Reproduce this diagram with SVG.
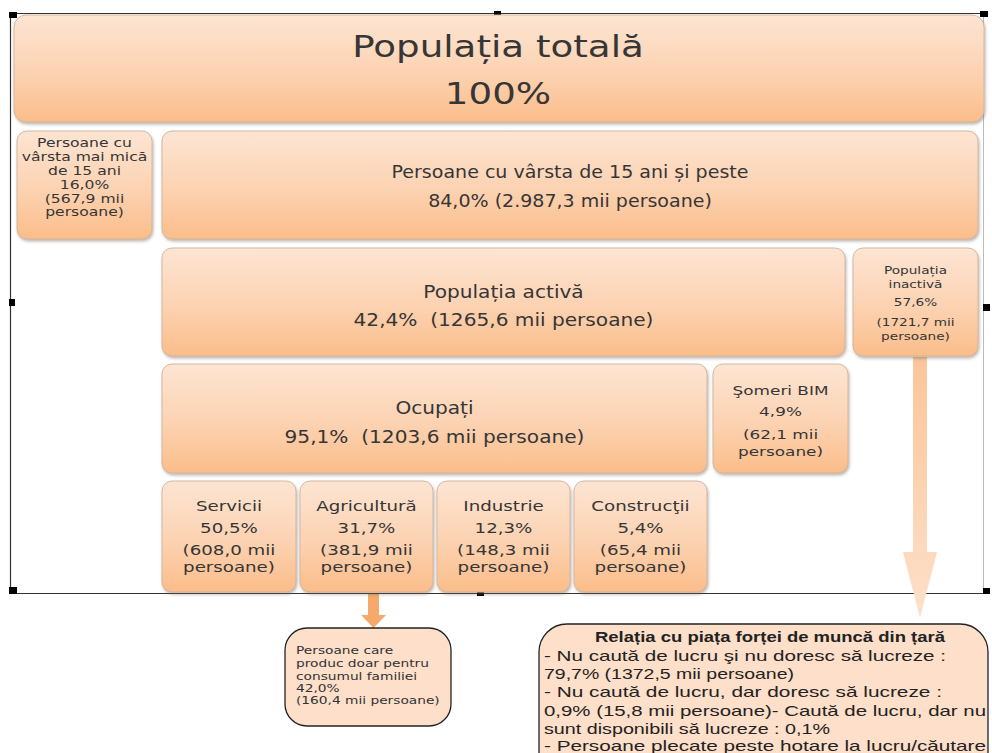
<svg xmlns="http://www.w3.org/2000/svg" width="992" height="753" viewBox="0 0 992 753">
<defs>
<linearGradient id="gBox" x1="0" y1="0" x2="0" y2="1">
<stop offset="0" stop-color="#fde5d3"/>
<stop offset="0.55" stop-color="#fcd2b1"/>
<stop offset="1" stop-color="#fbbd8a"/>
</linearGradient>
<linearGradient id="gArrow" x1="0" y1="0" x2="0" y2="1">
<stop offset="0" stop-color="#fbc59a"/>
<stop offset="1" stop-color="#fde0ca"/>
</linearGradient>
<filter id="sh" x="-5%" y="-10%" width="110%" height="125%">
<feDropShadow dx="1" dy="2" stdDeviation="1.4" flood-color="#6b5a4c" flood-opacity="0.45"/>
</filter>
</defs>
<style>
.box{fill:url(#gBox);stroke:#d0b39c;stroke-width:0.9;filter:url(#sh)}
.t{font-family:"DejaVu Sans",sans-serif;fill:#363636;text-anchor:middle}
.tl{font-family:"DejaVu Sans",sans-serif;fill:#333;text-anchor:start}
.b{font-family:"Liberation Sans",Arial,sans-serif;fill:#222;font-size:15px}
.frame{fill:none;stroke:#333;stroke-width:1.2}
.hd{fill:#000}
.note{fill:#fddfca;stroke:#222;stroke-width:1.3}
</style>
<rect width="992" height="753" fill="#ffffff"/>

<g id="frame">
<path class="frame" d="M10.5 593.5 V13.5 H983.5"/>
<path d="M983.5 13.5 V593.5" fill="none" stroke="#bbb" stroke-width="1"/>
<path class="frame" d="M10.5 593.5 H986"/>
<rect class="hd" x="9" y="12" width="8" height="6"/>
<rect class="hd" x="494" y="11" width="7" height="6"/>
<rect class="hd" x="980" y="11" width="8" height="6"/>
<rect class="hd" x="9" y="299" width="6" height="7"/>
<rect class="hd" x="983" y="304" width="7" height="7"/>
<rect class="hd" x="9" y="587" width="8" height="7"/>
<rect class="hd" x="477" y="590" width="7" height="6"/>
<rect class="hd" x="983" y="588" width="7" height="6"/>
</g>

<g id="connectors">
<path d="M913 357 H927 V552 H937 L920 618 L903 552 H913 Z" fill="url(#gArrow)"/>
<path d="M368 594 H379 V615 H386 L373.5 628 L361 615 H368 Z" fill="#f5a96a"/>
</g>

<g id="n-total">
<rect class="box" x="14" y="15" width="970" height="107" rx="12"/>
<g transform="translate(498 0) scale(1.24 1)">
<text class="t" x="0" y="57" font-size="30" fill="#1e1e1e">Populația totală</text>
<text class="t" x="0" y="104" font-size="30" fill="#1e1e1e">100%</text>
</g>
</g>

<g id="n-sub15">
<rect class="box" x="17" y="131" width="135" height="108" rx="10"/>
<g transform="translate(84.5 0) scale(1.3 1)" font-size="12">
<text class="t" x="0" y="147">Persoane cu</text>
<text class="t" x="0" y="161">vârsta mai mică</text>
<text class="t" x="0" y="175">de 15 ani</text>
<text class="t" x="0" y="189">16,0%</text>
<text class="t" x="0" y="203">(567,9 mii</text>
<text class="t" x="0" y="216">persoane)</text>
</g>
</g>

<g id="n-15plus">
<rect class="box" x="162" y="131" width="816" height="108" rx="10"/>
<g transform="translate(570 0) scale(1.12 1)" font-size="17">
<text class="t" x="0" y="178">Persoane cu vârsta de 15 ani și peste</text>
<text class="t" x="0" y="207">84,0% (2.987,3 mii persoane)</text>
</g>
</g>

<g id="n-activa">
<rect class="box" x="162" y="248" width="683" height="108" rx="10"/>
<g transform="translate(503.5 0) scale(1.15 1)" font-size="17.5">
<text class="t" x="0" y="298">Populația activă</text>
<text class="t" x="0" y="326">42,4%&#160; (1265,6 mii persoane)</text>
</g>
</g>

<g id="n-inactiva">
<rect class="box" x="853" y="248" width="125" height="108" rx="10"/>
<g transform="translate(915.5 0) scale(1.3 1)" font-size="10.5">
<text class="t" x="0" y="274">Populația</text>
<text class="t" x="0" y="288">inactivă</text>
<text class="t" x="0" y="306">57,6%</text>
<text class="t" x="0" y="326">(1721,7 mii</text>
<text class="t" x="0" y="340">persoane)</text>
</g>
</g>

<g id="n-ocupati">
<rect class="box" x="162" y="364" width="545" height="109" rx="10"/>
<g transform="translate(434.5 0) scale(1.15 1)" font-size="17.5">
<text class="t" x="0" y="414">Ocupați</text>
<text class="t" x="0" y="443">95,1%&#160; (1203,6 mii persoane)</text>
</g>
</g>

<g id="n-someri">
<rect class="box" x="713" y="364" width="135" height="109" rx="10"/>
<g transform="translate(780.5 0) scale(1.35 1)" font-size="12.5">
<text class="t" x="0" y="395">Şomeri BIM</text>
<text class="t" x="0" y="416">4,9%</text>
<text class="t" x="0" y="439">(62,1 mii</text>
<text class="t" x="0" y="456">persoane)</text>
</g>
</g>

<g id="n-servicii">
<rect class="box" x="162" y="481" width="134" height="111" rx="10"/>
<g transform="translate(229 0) scale(1.35 1)" font-size="13.5">
<text class="t" x="0" y="511">Servicii</text>
<text class="t" x="0" y="533">50,5%</text>
<text class="t" x="0" y="555">(608,0 mii</text>
<text class="t" x="0" y="572">persoane)</text>
</g>
</g>

<g id="n-agricultura">
<rect class="box" x="300" y="481" width="133" height="111" rx="10"/>
<g transform="translate(366.5 0) scale(1.35 1)" font-size="13.5">
<text class="t" x="0" y="511">Agricultură</text>
<text class="t" x="0" y="533">31,7%</text>
<text class="t" x="0" y="555">(381,9 mii</text>
<text class="t" x="0" y="572">persoane)</text>
</g>
</g>

<g id="n-industrie">
<rect class="box" x="437" y="481" width="133" height="111" rx="10"/>
<g transform="translate(503.5 0) scale(1.35 1)" font-size="13.5">
<text class="t" x="0" y="511">Industrie</text>
<text class="t" x="0" y="533">12,3%</text>
<text class="t" x="0" y="555">(148,3 mii</text>
<text class="t" x="0" y="572">persoane)</text>
</g>
</g>

<g id="n-constructii">
<rect class="box" x="574" y="481" width="133" height="111" rx="10"/>
<g transform="translate(640.5 0) scale(1.35 1)" font-size="13.5">
<text class="t" x="0" y="511">Construcţii</text>
<text class="t" x="0" y="533">5,4%</text>
<text class="t" x="0" y="555">(65,4 mii</text>
<text class="t" x="0" y="572">persoane)</text>
</g>
</g>

<g id="n-familie">
<rect class="note" x="285" y="628" width="166" height="98" rx="22"/>
<g transform="translate(296 0) scale(1.25 1)" font-size="11">
<text class="tl" x="0" y="654">Persoane care</text>
<text class="tl" x="0" y="667">produc doar pentru</text>
<text class="tl" x="0" y="680">consumul familiei</text>
<text class="tl" x="0" y="692">42,0%</text>
<text class="tl" x="0" y="704">(160,4 mii persoane)</text>
</g>
</g>

<g id="n-relatia">
<rect class="note" x="539" y="624" width="449" height="170" rx="28"/>
<text class="b" x="770" y="642" font-weight="bold" text-anchor="middle" textLength="350" lengthAdjust="spacingAndGlyphs">Relația cu piața forței de muncă din țară</text>
<text class="b" x="544" y="661" textLength="402" lengthAdjust="spacingAndGlyphs">-  Nu caută de lucru şi nu doresc să lucreze :</text>
<text class="b" x="544" y="679" textLength="250" lengthAdjust="spacingAndGlyphs">79,7% (1372,5 mii persoane)</text>
<text class="b" x="544" y="697" textLength="398" lengthAdjust="spacingAndGlyphs">-  Nu caută de lucru, dar doresc să lucreze :</text>
<text class="b" x="544" y="716" textLength="442" lengthAdjust="spacingAndGlyphs">0,9% (15,8 mii persoane)-  Caută de lucru, dar nu</text>
<text class="b" x="544" y="734" textLength="286" lengthAdjust="spacingAndGlyphs">sunt disponibili să lucreze : 0,1%</text>
<text class="b" x="544" y="751" textLength="442" lengthAdjust="spacingAndGlyphs">- Persoane plecate peste hotare la lucru/căutare</text>
</g>
</svg>
